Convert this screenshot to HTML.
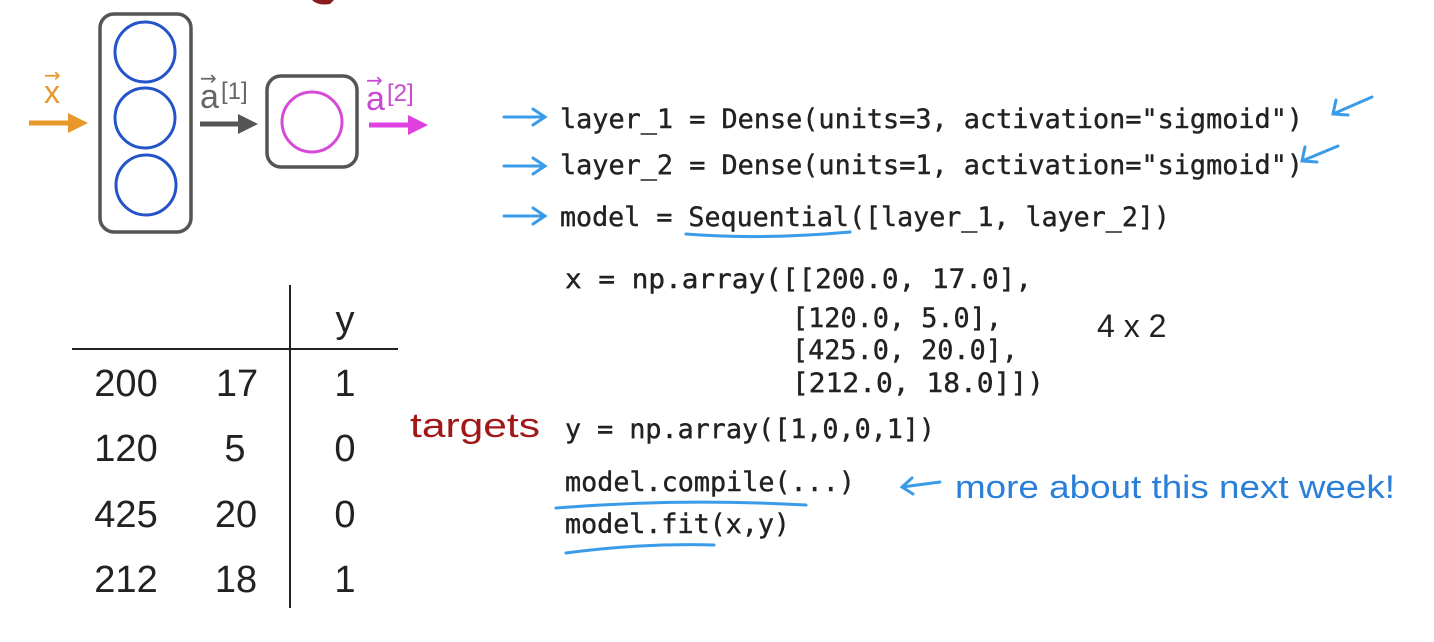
<!DOCTYPE html>
<html><head><meta charset="utf-8"><style>
html,body{margin:0;padding:0;background:#fff;}
svg{display:block}
.c{font-family:"DejaVu Sans Mono","Liberation Mono",monospace;font-size:27px;fill:#222;stroke:#222;stroke-width:0.4}
.n{font-family:"Liberation Sans",sans-serif;font-size:38px;fill:#222}
.h{font-family:"Liberation Sans",sans-serif;font-style:italic;}
</style></head><body>
<svg width="1434" height="642" viewBox="0 0 1434 642" xmlns="http://www.w3.org/2000/svg">
<defs>
<marker id="ao" markerWidth="4" markerHeight="4" refX="2" refY="2" orient="auto"><path d="M0,0 L4,2 L0,4z" fill="#e8972a"/></marker>
<marker id="ag" markerWidth="4" markerHeight="4" refX="2" refY="2" orient="auto"><path d="M0,0 L4,2 L0,4z" fill="#555"/></marker>
<marker id="am" markerWidth="4" markerHeight="4" refX="2" refY="2" orient="auto"><path d="M0,0 L4,2 L0,4z" fill="#e040e0"/></marker>
</defs>
<path d="M312,0 Q318,6 330,4 L334,0z" fill="#8b1a1a"/>
<!-- network -->
<rect x="100" y="14" width="91" height="218" rx="14" fill="none" stroke="#555" stroke-width="3.5"/>
<circle cx="145" cy="52" r="30" fill="none" stroke="#2454c8" stroke-width="3"/>
<circle cx="145" cy="118" r="30" fill="none" stroke="#2454c8" stroke-width="3"/>
<circle cx="146" cy="185" r="30" fill="none" stroke="#2454c8" stroke-width="3"/>
<rect x="267" y="76" width="90" height="91" rx="14" fill="none" stroke="#555" stroke-width="3.5"/>
<circle cx="312" cy="122" r="30" fill="none" stroke="#d64ad8" stroke-width="3"/>
<line x1="29" y1="123" x2="78" y2="123" stroke="#e8972a" stroke-width="5" marker-end="url(#ao)"/>
<line x1="200" y1="124" x2="248" y2="124" stroke="#555" stroke-width="5" marker-end="url(#ag)"/>
<line x1="369" y1="125" x2="418" y2="125" stroke="#e040e0" stroke-width="5" marker-end="url(#am)"/>
<text x="44" y="103" font-family="Liberation Sans,sans-serif" font-size="32" fill="#e8972a">x</text>
<text x="44" y="82" font-family="DejaVu Sans,sans-serif" font-size="20" fill="#e8972a">→</text>
<text x="200" y="108" font-family="Liberation Sans,sans-serif" font-size="34" fill="#666">a</text>
<text x="200" y="85" font-family="DejaVu Sans,sans-serif" font-size="20" fill="#666">→</text>
<text x="221" y="99" font-family="Liberation Sans,sans-serif" font-size="24" fill="#666">[1]</text>
<text x="366" y="110" font-family="Liberation Sans,sans-serif" font-size="34" fill="#c848d0">a</text>
<text x="366" y="87" font-family="DejaVu Sans,sans-serif" font-size="20" fill="#c848d0">→</text>
<text x="387" y="101" font-family="Liberation Sans,sans-serif" font-size="24" fill="#c848d0">[2]</text>
<!-- table -->
<line x1="290" y1="285" x2="290" y2="608" stroke="#222" stroke-width="2"/>
<line x1="72" y1="349" x2="398" y2="349" stroke="#222" stroke-width="2"/>
<text class="n" x="345" y="332" text-anchor="middle">y</text>
<g class="n" text-anchor="middle">
<text x="126" y="396">200</text><text x="237" y="396">17</text><text x="345" y="396">1</text>
<text x="126" y="461">120</text><text x="235" y="461">5</text><text x="345" y="461">0</text>
<text x="126" y="527">425</text><text x="236" y="527">20</text><text x="345" y="527">0</text>
<text x="126" y="592">212</text><text x="236" y="592">18</text><text x="345" y="592">1</text>
</g>
<!-- code -->
<g class="c">
<text x="560" y="128" textLength="743" lengthAdjust="spacingAndGlyphs">layer_1 = Dense(units=3, activation="sigmoid")</text>
<text x="560" y="174" textLength="743" lengthAdjust="spacingAndGlyphs">layer_2 = Dense(units=1, activation="sigmoid")</text>
<text x="560" y="226" textLength="610" lengthAdjust="spacingAndGlyphs">model = Sequential([layer_1, layer_2])</text>
<text x="565" y="288" textLength="467" lengthAdjust="spacingAndGlyphs">x = np.array([[200.0, 17.0],</text>
<text x="792" y="327" textLength="210" lengthAdjust="spacingAndGlyphs">[120.0, 5.0],</text>
<text x="792" y="359" textLength="226" lengthAdjust="spacingAndGlyphs">[425.0, 20.0],</text>
<text x="792" y="392" textLength="252" lengthAdjust="spacingAndGlyphs">[212.0, 18.0]])</text>
<text x="565" y="438" textLength="370" lengthAdjust="spacingAndGlyphs">y = np.array([1,0,0,1])</text>
<text x="565" y="491" textLength="290" lengthAdjust="spacingAndGlyphs">model.compile(...)</text>
<text x="565" y="533" textLength="225" lengthAdjust="spacingAndGlyphs">model.fit(x,y)</text>
</g>
<text x="1097" y="337" font-family="Liberation Sans,sans-serif" font-size="32" fill="#222">4 x 2</text>
<!-- handwritten -->
<text x="410" y="437" font-family="Liberation Sans,sans-serif" font-size="34" fill="#a01818" textLength="130" lengthAdjust="spacingAndGlyphs">targets</text>
<text x="955" y="498" font-family="Liberation Sans,sans-serif" font-size="32" fill="#2a7fd8" textLength="440" lengthAdjust="spacingAndGlyphs">more about this next week!</text>
<!-- blue arrows -->
<g stroke="#3a9be8" stroke-width="3" fill="none" stroke-linecap="round">
<path d="M504,117 L544,117 M533,109 L545,117 L533,125"/>
<path d="M504,166 L544,166 M533,158 L545,166 L533,174"/>
<path d="M504,216 L544,216 M533,208 L545,216 L533,224"/>
<path d="M1372,97 L1333,114 M1336,100 L1333,114 L1348,115"/>
<path d="M1338,146 L1302,161 M1305,147 L1302,161 L1317,162"/>
<path d="M940,482 L902,487 M912,478 L902,487 L913,494"/>
<path d="M686,234 Q760,240 850,232"/>
<path d="M556,508 Q680,498 806,505"/>
<path d="M566,553 Q640,543 714,545"/>
</g>
</svg>
</body></html>
